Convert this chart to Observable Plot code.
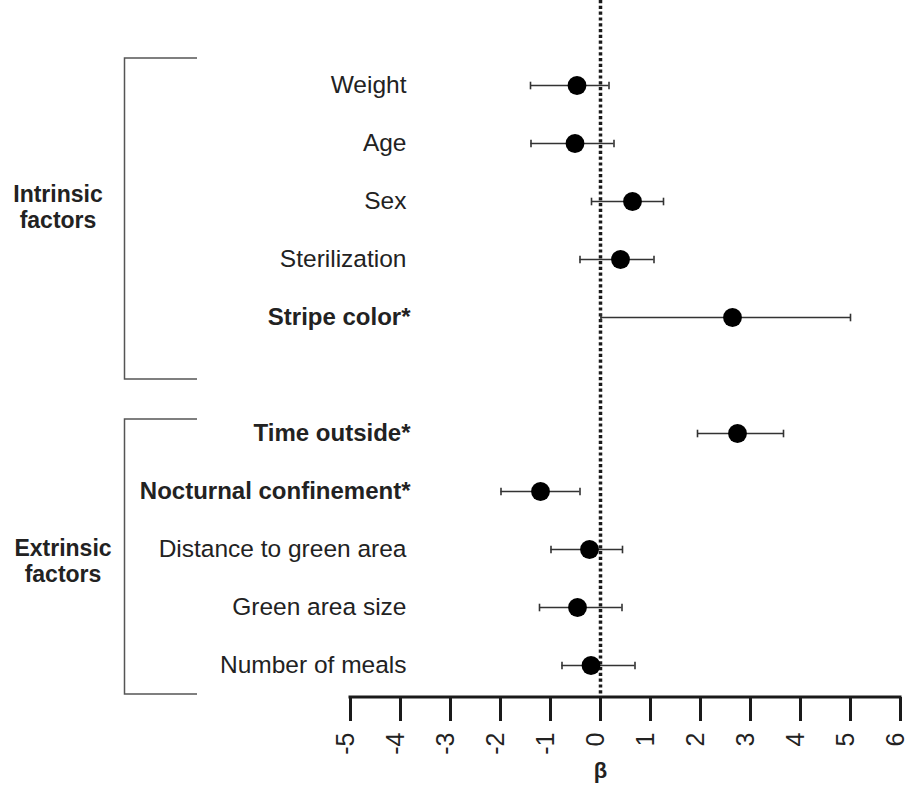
<!DOCTYPE html>
<html>
<head>
<meta charset="utf-8">
<script src="https://cdn.jsdelivr.net/npm/d3@7"></script>
<script src="https://cdn.jsdelivr.net/npm/@observablehq/plot@0.6"></script>
<style>
  html, body { margin: 0; padding: 0; background: #fff; }
  #chart svg { overflow: visible; font-family: "Liberation Sans", Arial, Helvetica, sans-serif; }
</style>
</head>
<body>
<div id="chart"></div>
<script>
// ---- data ----
const factors = ["Weight", "Age", "Sex", "Sterilization", "Stripe color*", "",
                 "Time outside*", "Nocturnal confinement*", "Distance to green area", "Green area size", "Number of meals"];
const significant = ["Stripe color*", "Time outside*", "Nocturnal confinement*"];
const beta  = [-0.47, -0.51, 0.64, 0.40, 2.64, null, 2.74, -1.20, -0.22, -0.46, -0.19];
const lower = [-1.40, -1.39, -0.18, -0.41, 0.01, null, 1.94, -1.99, -0.99, -1.22, -0.77];
const upper = [0.17, 0.27, 1.26, 1.07, 5.00, null, 3.66, -0.41, 0.44, 0.43, 0.69];
const xTicks = [-5, -4, -3, -2, -1, 0, 1, 2, 3, 4, 5, 6];
const groupNames = ["Intrinsic\nfactors", "Extrinsic\nfactors"];
const groupFirst = ["Weight", "Time outside*"];
const groupLast = ["Stripe color*", "Number of meals"];
const groupMid = ["Sex", "Distance to green area"];
const zeroLine = [0];
const axisLabel = "β";

const rows = factors.map((f, i) => ({factor: f, beta: beta[i], lo: lower[i], hi: upper[i]}))
  .filter(d => d.factor !== "");
const labels = factors.filter(f => f !== "");
const groups = groupNames.map((g, i) => ({name: g, first: groupFirst[i], last: groupLast[i], mid: groupMid[i]}));

const ink = "#1a1a1a";

// vertical cap symbol for error bars
const capSymbol = {
  draw(context, size) {
    const h = Math.sqrt(size / Math.PI);
    context.moveTo(0, -h);
    context.lineTo(0, h);
  }
};

// bracket render (annotation) using the y scale
const bracketOffsets = [[-27, 62], [-14, 29]];
function brackets(index, scales) {
  const g = d3.create("svg:g").attr("fill", "none").attr("stroke", "#555").attr("stroke-width", 1.5);
  groups.forEach((d, i) => {
    const y1 = scales.y(d.first) + bracketOffsets[i][0];
    const y2 = scales.y(d.last) + bracketOffsets[i][1];
    g.append("path").attr("d", `M197,${y1}H124.5V${y2}H197`);
  });
  return g.node();
}
function baseline(index, scales, values, dim) {
  const g = d3.create("svg:g");
  g.append("line")
    .attr("x1", scales.x(xTicks[0]) - 1.5).attr("x2", scales.x(xTicks[xTicks.length - 1]) + 1.5)
    .attr("y1", dim.height - dim.marginBottom).attr("y2", dim.height - dim.marginBottom)
    .attr("stroke", ink).attr("stroke-width", 3);
  return g.node();
}

const chart = Plot.plot({
  width: 906,
  height: 787,
  marginLeft: 350,
  marginRight: 6,
  marginTop: 0,
  marginBottom: 90,
  style: {fontFamily: '"Liberation Sans", Arial, Helvetica, sans-serif', color: ink, background: "#fff"},
  x: {domain: [-5, 6]},
  y: {type: "point", domain: factors, range: [80.7, 668.5], padding: 0, axis: null},
  marks: [
    Plot.ruleX(zeroLine, {x: d => d, stroke: ink, strokeWidth: 3.5, strokeDasharray: "3.2,2.6"}),
    Plot.ruleY(rows, {y: "factor", x1: "lo", x2: "hi", stroke: "#333", strokeWidth: 1.6}),
    Plot.dot(rows, {x: "lo", y: "factor", symbol: capSymbol, r: 3.8, fill: "none", stroke: "#333", strokeWidth: 1.6}),
    Plot.dot(rows, {x: "hi", y: "factor", symbol: capSymbol, r: 3.8, fill: "none", stroke: "#333", strokeWidth: 1.6}),
    Plot.dot(rows, {x: "beta", y: "factor", r: 9.4, fill: "#000", stroke: "none"}),
    Plot.text(labels.filter(l => !significant.includes(l)), {y: d => d, text: d => d, frameAnchor: "left", dx: 56, textAnchor: "end", fontSize: 24.5, fill: "#222"}),
    Plot.text(labels.filter(l => significant.includes(l)), {y: d => d, text: d => d, frameAnchor: "left", dx: 60, textAnchor: "end", fontSize: 24, fontWeight: "bold", fill: "#222"}),
    Plot.text(groups.slice(0, 1), {y: "mid", text: "name", frameAnchor: "left", dx: -292.5, dy: 5, textAnchor: "middle", fontSize: 23, fontWeight: "bold", lineHeight: 1.15, fill: "#222"}),
    Plot.text(groups.slice(1), {y: "mid", text: "name", frameAnchor: "left", dx: -287.5, dy: 11, textAnchor: "middle", fontSize: 23, fontWeight: "bold", lineHeight: 1.15, fill: "#222"}),
    brackets,
    baseline,
    Plot.axisX({ticks: xTicks, tickFormat: d => String(d), tickSize: 24, tickPadding: 11, tickRotate: -90, fontSize: 25, strokeWidth: 3, stroke: ink, fill: "#222", label: null}),
    Plot.text(zeroLine, {x: d => d, text: () => axisLabel, frameAnchor: "bottom", dy: 80, fontSize: 22, fontWeight: "bold", fill: "#222"})
  ]
});
// nudge rotated tick labels slightly left of their ticks, as in the reference
d3.select(chart).selectAll('g[aria-label="x-axis tick label"] text').each(function() {
  const t = d3.select(this);
  t.attr("transform", (t.attr("transform") || "") + " translate(0,-5)");
});
document.getElementById("chart").appendChild(chart);
</script>
</body>
</html>
